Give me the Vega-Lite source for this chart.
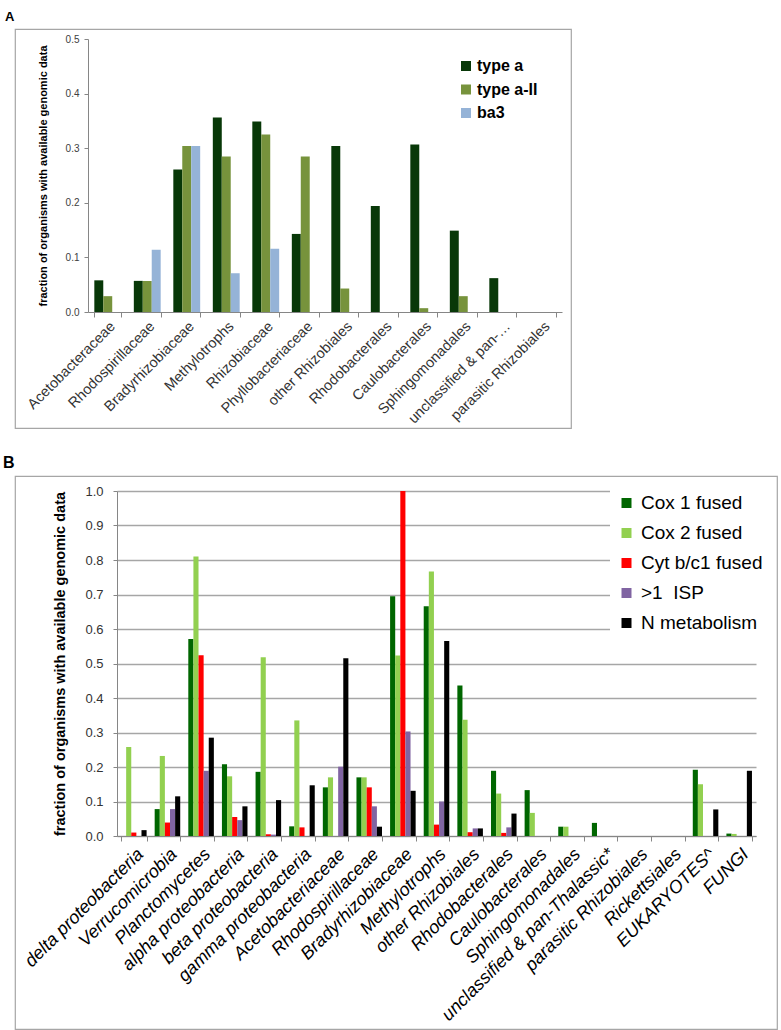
{
  "$schema": "https://vega.github.io/schema/vega-lite/v6.json",
  "background": "white",
  "autosize": {"type": "pad"},
  "padding": {"left": 2, "top": 10, "right": 0, "bottom": 0},
  "bounds": "flush",
  "spacing": 48,
  "resolve": {"scale": {"color": "independent", "xOffset": "independent", "x": "independent", "y": "independent"}, "legend": {"color": "independent"}},
  "config": {
    "font": "Liberation Sans",
    "view": {"stroke": "#a6a6a6", "strokeWidth": 1.2},
    "axis": {"domainColor": "#868686", "tickColor": "#868686", "labelFont": "Liberation Sans", "titleFont": "Liberation Sans"},
    "legend": {"labelFont": "Liberation Sans"}
  },
  "datasets": {
    "a": [
      {"g": "Acetobacteraceae", "s": "type a", "v": 0.058}, {"g": "Acetobacteraceae", "s": "type a-II", "v": 0.029}, {"g": "Acetobacteraceae", "s": "ba3", "v": 0},
      {"g": "Rhodospirillaceae", "s": "type a", "v": 0.057}, {"g": "Rhodospirillaceae", "s": "type a-II", "v": 0.057}, {"g": "Rhodospirillaceae", "s": "ba3", "v": 0.114},
      {"g": "Bradyrhizobiaceae", "s": "type a", "v": 0.261}, {"g": "Bradyrhizobiaceae", "s": "type a-II", "v": 0.304}, {"g": "Bradyrhizobiaceae", "s": "ba3", "v": 0.304},
      {"g": "Methylotrophs", "s": "type a", "v": 0.356}, {"g": "Methylotrophs", "s": "type a-II", "v": 0.285}, {"g": "Methylotrophs", "s": "ba3", "v": 0.071},
      {"g": "Rhizobiaceae", "s": "type a", "v": 0.349}, {"g": "Rhizobiaceae", "s": "type a-II", "v": 0.325}, {"g": "Rhizobiaceae", "s": "ba3", "v": 0.116},
      {"g": "Phyllobacteriaceae", "s": "type a", "v": 0.143}, {"g": "Phyllobacteriaceae", "s": "type a-II", "v": 0.285}, {"g": "Phyllobacteriaceae", "s": "ba3", "v": 0},
      {"g": "other Rhizobiales", "s": "type a", "v": 0.304}, {"g": "other Rhizobiales", "s": "type a-II", "v": 0.043}, {"g": "other Rhizobiales", "s": "ba3", "v": 0},
      {"g": "Rhodobacterales", "s": "type a", "v": 0.194}, {"g": "Rhodobacterales", "s": "type a-II", "v": 0}, {"g": "Rhodobacterales", "s": "ba3", "v": 0},
      {"g": "Caulobacterales", "s": "type a", "v": 0.307}, {"g": "Caulobacterales", "s": "type a-II", "v": 0.007}, {"g": "Caulobacterales", "s": "ba3", "v": 0},
      {"g": "Sphingomonadales", "s": "type a", "v": 0.149}, {"g": "Sphingomonadales", "s": "type a-II", "v": 0.029}, {"g": "Sphingomonadales", "s": "ba3", "v": 0},
      {"g": "unclassified & pan-…", "s": "type a", "v": 0.062}, {"g": "unclassified & pan-…", "s": "type a-II", "v": 0}, {"g": "unclassified & pan-…", "s": "ba3", "v": 0},
      {"g": "parasitic Rhizobiales", "s": "type a", "v": 0}, {"g": "parasitic Rhizobiales", "s": "type a-II", "v": 0}, {"g": "parasitic Rhizobiales", "s": "ba3", "v": 0}
    ],
    "b": [
      {"g": "delta proteobacteria", "s": "Cox 1 fused", "v": 0}, {"g": "delta proteobacteria", "s": "Cox 2 fused", "v": 0.258}, {"g": "delta proteobacteria", "s": "Cyt b/c1 fused", "v": 0.01}, {"g": "delta proteobacteria", "s": ">1 \u00a0ISP", "v": 0}, {"g": "delta proteobacteria", "s": "N metabolism", "v": 0.017},
      {"g": "Verrucomicrobia", "s": "Cox 1 fused", "v": 0.078}, {"g": "Verrucomicrobia", "s": "Cox 2 fused", "v": 0.232}, {"g": "Verrucomicrobia", "s": "Cyt b/c1 fused", "v": 0.039}, {"g": "Verrucomicrobia", "s": ">1 \u00a0ISP", "v": 0.078}, {"g": "Verrucomicrobia", "s": "N metabolism", "v": 0.115},
      {"g": "Planctomycetes", "s": "Cox 1 fused", "v": 0.571}, {"g": "Planctomycetes", "s": "Cox 2 fused", "v": 0.81}, {"g": "Planctomycetes", "s": "Cyt b/c1 fused", "v": 0.524}, {"g": "Planctomycetes", "s": ">1 \u00a0ISP", "v": 0.189}, {"g": "Planctomycetes", "s": "N metabolism", "v": 0.285},
      {"g": "alpha proteobacteria", "s": "Cox 1 fused", "v": 0.208}, {"g": "alpha proteobacteria", "s": "Cox 2 fused", "v": 0.173}, {"g": "alpha proteobacteria", "s": "Cyt b/c1 fused", "v": 0.055}, {"g": "alpha proteobacteria", "s": ">1 \u00a0ISP", "v": 0.046}, {"g": "alpha proteobacteria", "s": "N metabolism", "v": 0.086},
      {"g": "beta proteobacteria", "s": "Cox 1 fused", "v": 0.186}, {"g": "beta proteobacteria", "s": "Cox 2 fused", "v": 0.518}, {"g": "beta proteobacteria", "s": "Cyt b/c1 fused", "v": 0.005}, {"g": "beta proteobacteria", "s": ">1 \u00a0ISP", "v": 0.004}, {"g": "beta proteobacteria", "s": "N metabolism", "v": 0.104},
      {"g": "gamma proteobacteria", "s": "Cox 1 fused", "v": 0.028}, {"g": "gamma proteobacteria", "s": "Cox 2 fused", "v": 0.335}, {"g": "gamma proteobacteria", "s": "Cyt b/c1 fused", "v": 0.025}, {"g": "gamma proteobacteria", "s": ">1 \u00a0ISP", "v": 0}, {"g": "gamma proteobacteria", "s": "N metabolism", "v": 0.147},
      {"g": "Acetobacteriaceae", "s": "Cox 1 fused", "v": 0.141}, {"g": "Acetobacteriaceae", "s": "Cox 2 fused", "v": 0.17}, {"g": "Acetobacteriaceae", "s": "Cyt b/c1 fused", "v": 0}, {"g": "Acetobacteriaceae", "s": ">1 \u00a0ISP", "v": 0.201}, {"g": "Acetobacteriaceae", "s": "N metabolism", "v": 0.515},
      {"g": "Rhodospirillaceae", "s": "Cox 1 fused", "v": 0.17}, {"g": "Rhodospirillaceae", "s": "Cox 2 fused", "v": 0.17}, {"g": "Rhodospirillaceae", "s": "Cyt b/c1 fused", "v": 0.141}, {"g": "Rhodospirillaceae", "s": ">1 \u00a0ISP", "v": 0.086}, {"g": "Rhodospirillaceae", "s": "N metabolism", "v": 0.027},
      {"g": "Bradyrhizobiaceae", "s": "Cox 1 fused", "v": 0.695}, {"g": "Bradyrhizobiaceae", "s": "Cox 2 fused", "v": 0.523}, {"g": "Bradyrhizobiaceae", "s": "Cyt b/c1 fused", "v": 1.0}, {"g": "Bradyrhizobiaceae", "s": ">1 \u00a0ISP", "v": 0.303}, {"g": "Bradyrhizobiaceae", "s": "N metabolism", "v": 0.131},
      {"g": "Methylotrophs", "s": "Cox 1 fused", "v": 0.666}, {"g": "Methylotrophs", "s": "Cox 2 fused", "v": 0.767}, {"g": "Methylotrophs", "s": "Cyt b/c1 fused", "v": 0.033}, {"g": "Methylotrophs", "s": ">1 \u00a0ISP", "v": 0.1}, {"g": "Methylotrophs", "s": "N metabolism", "v": 0.565},
      {"g": "other Rhizobiales", "s": "Cox 1 fused", "v": 0.436}, {"g": "other Rhizobiales", "s": "Cox 2 fused", "v": 0.337}, {"g": "other Rhizobiales", "s": "Cyt b/c1 fused", "v": 0.011}, {"g": "other Rhizobiales", "s": ">1 \u00a0ISP", "v": 0.022}, {"g": "other Rhizobiales", "s": "N metabolism", "v": 0.022},
      {"g": "Rhodobacterales", "s": "Cox 1 fused", "v": 0.189}, {"g": "Rhodobacterales", "s": "Cox 2 fused", "v": 0.123}, {"g": "Rhodobacterales", "s": "Cyt b/c1 fused", "v": 0.009}, {"g": "Rhodobacterales", "s": ">1 \u00a0ISP", "v": 0.025}, {"g": "Rhodobacterales", "s": "N metabolism", "v": 0.065},
      {"g": "Caulobacterales", "s": "Cox 1 fused", "v": 0.133}, {"g": "Caulobacterales", "s": "Cox 2 fused", "v": 0.067}, {"g": "Caulobacterales", "s": "Cyt b/c1 fused", "v": 0}, {"g": "Caulobacterales", "s": ">1 \u00a0ISP", "v": 0}, {"g": "Caulobacterales", "s": "N metabolism", "v": 0},
      {"g": "Sphingomonadales", "s": "Cox 1 fused", "v": 0.027}, {"g": "Sphingomonadales", "s": "Cox 2 fused", "v": 0.027}, {"g": "Sphingomonadales", "s": "Cyt b/c1 fused", "v": 0}, {"g": "Sphingomonadales", "s": ">1 \u00a0ISP", "v": 0}, {"g": "Sphingomonadales", "s": "N metabolism", "v": 0},
      {"g": "unclassified & pan-Thalassic*", "s": "Cox 1 fused", "v": 0.038}, {"g": "unclassified & pan-Thalassic*", "s": "Cox 2 fused", "v": 0}, {"g": "unclassified & pan-Thalassic*", "s": "Cyt b/c1 fused", "v": 0}, {"g": "unclassified & pan-Thalassic*", "s": ">1 \u00a0ISP", "v": 0}, {"g": "unclassified & pan-Thalassic*", "s": "N metabolism", "v": 0},
      {"g": "parasitic Rhizobiales", "s": "Cox 1 fused", "v": 0}, {"g": "parasitic Rhizobiales", "s": "Cox 2 fused", "v": 0}, {"g": "parasitic Rhizobiales", "s": "Cyt b/c1 fused", "v": 0}, {"g": "parasitic Rhizobiales", "s": ">1 \u00a0ISP", "v": 0}, {"g": "parasitic Rhizobiales", "s": "N metabolism", "v": 0},
      {"g": "Rickettsiales", "s": "Cox 1 fused", "v": 0}, {"g": "Rickettsiales", "s": "Cox 2 fused", "v": 0}, {"g": "Rickettsiales", "s": "Cyt b/c1 fused", "v": 0}, {"g": "Rickettsiales", "s": ">1 \u00a0ISP", "v": 0}, {"g": "Rickettsiales", "s": "N metabolism", "v": 0},
      {"g": "EUKARYOTES^", "s": "Cox 1 fused", "v": 0.192}, {"g": "EUKARYOTES^", "s": "Cox 2 fused", "v": 0.15}, {"g": "EUKARYOTES^", "s": "Cyt b/c1 fused", "v": 0}, {"g": "EUKARYOTES^", "s": ">1 \u00a0ISP", "v": 0}, {"g": "EUKARYOTES^", "s": "N metabolism", "v": 0.077},
      {"g": "FUNGI", "s": "Cox 1 fused", "v": 0.007}, {"g": "FUNGI", "s": "Cox 2 fused", "v": 0.006}, {"g": "FUNGI", "s": "Cyt b/c1 fused", "v": 0}, {"g": "FUNGI", "s": ">1 \u00a0ISP", "v": 0}, {"g": "FUNGI", "s": "N metabolism", "v": 0.189}
    ]
  },
  "vconcat": [
    {
      "width": 556,
      "height": 399,
      "title": {"text": "A", "anchor": "start", "frame": "group", "dx": -10, "offset": -5, "baseline": "alphabetic", "fontSize": 13, "fontWeight": "bold", "color": "black", "font": "Liberation Sans"},
      "data": {"name": "a"},
      "mark": {"type": "bar"},
      "encoding": {
        "x": {
          "field": "g", "type": "nominal",
          "sort": ["Acetobacteraceae", "Rhodospirillaceae", "Bradyrhizobiaceae", "Methylotrophs", "Rhizobiaceae", "Phyllobacteriaceae", "other Rhizobiales", "Rhodobacterales", "Caulobacterales", "Sphingomonadales", "unclassified & pan-…", "parasitic Rhizobiales"],
          "scale": {"range": [73, 547], "paddingInner": 0.32, "paddingOuter": 0.16},
          "axis": {"title": null, "labelAngle": -45, "labelFontSize": 14.5, "labelColor": "#333333", "offset": -116, "tickBand": "extent", "tickSize": 5, "labelPadding": 2, "labelLimit": 300}
        },
        "xOffset": {"field": "s", "type": "nominal", "sort": ["type a", "type a-II", "ba3"]},
        "y": {
          "field": "v", "type": "quantitative",
          "scale": {"domain": [0, 0.5], "range": [283, 10], "nice": false},
          "axis": {"title": "fraction of organisms with available genomic data", "titleFontSize": 11, "titleFontWeight": "bold", "titleColor": "black", "titlePadding": 17, "values": [0, 0.1, 0.2, 0.3, 0.4, 0.5], "format": ".1f", "labelFontSize": 10, "labelColor": "#404040", "offset": -73, "grid": false, "tickSize": 4, "labelPadding": 5}
        },
        "color": {
          "field": "s", "type": "nominal",
          "scale": {"domain": ["type a", "type a-II", "ba3"], "range": ["#083808", "#77933C", "#95B3D7"]},
          "legend": {"title": null, "orient": "none", "legendX": 443, "legendY": 29, "symbolType": "square", "symbolSize": 100, "symbolStrokeWidth": 0, "labelFontSize": 16, "labelFontWeight": "bold", "labelColor": "black", "rowPadding": 7.5, "padding": 0, "labelOffset": 3}
        }
      }
    },
    {
      "width": 762,
      "height": 553,
      "title": {"text": "B", "anchor": "start", "frame": "group", "dx": -12, "offset": -8, "baseline": "alphabetic", "fontSize": 16, "fontWeight": "bold", "color": "black", "font": "Liberation Sans"},
      "data": {"name": "b"},
      "mark": {"type": "bar"},
      "encoding": {
        "x": {
          "field": "g", "type": "nominal",
          "sort": ["delta proteobacteria", "Verrucomicrobia", "Planctomycetes", "alpha proteobacteria", "beta proteobacteria", "gamma proteobacteria", "Acetobacteriaceae", "Rhodospirillaceae", "Bradyrhizobiaceae", "Methylotrophs", "other Rhizobiales", "Rhodobacterales", "Caulobacterales", "Sphingomonadales", "unclassified & pan-Thalassic*", "parasitic Rhizobiales", "Rickettsiales", "EUKARYOTES^", "FUNGI"],
          "scale": {"range": [102, 741], "paddingInner": 0.24, "paddingOuter": 0.12},
          "axis": {"title": null, "labelAngle": -45, "labelFontSize": 18, "labelFontStyle": "italic", "labelColor": "black", "offset": -193, "tickBand": "extent", "tickSize": 5, "labelPadding": 4, "labelLimit": 300}
        },
        "xOffset": {"field": "s", "type": "nominal", "sort": ["Cox 1 fused", "Cox 2 fused", "Cyt b/c1 fused", ">1 \u00a0ISP", "N metabolism"]},
        "y": {
          "field": "v", "type": "quantitative",
          "scale": {"domain": [0, 1], "range": [360, 15], "nice": false},
          "axis": {"title": "fraction of organisms with available genomic data", "titleFontSize": 14.5, "titleFontWeight": "bold", "titleColor": "black", "titlePadding": 17, "values": [0, 0.1, 0.2, 0.3, 0.4, 0.5, 0.6, 0.7, 0.8, 0.9, 1.0], "format": ".1f", "labelFontSize": 13, "labelColor": "#333333", "offset": -102, "grid": true, "gridColor": "#a6a6a6", "gridWidth": 1.3, "tickSize": 4, "labelPadding": 10}
        },
        "color": {
          "field": "s", "type": "nominal",
          "scale": {"domain": ["Cox 1 fused", "Cox 2 fused", "Cyt b/c1 fused", ">1 \u00a0ISP", "N metabolism"], "range": ["#006600", "#92D050", "#FF0000", "#8064A2", "#000000"]},
          "legend": {"title": null, "orient": "none", "legendX": 595, "legendY": 10.5, "symbolType": "square", "symbolSize": 100, "symbolStrokeWidth": 0, "labelFontSize": 19, "labelColor": "black", "rowPadding": 10, "padding": 7, "labelOffset": 5, "fillColor": "white", "labelLimit": 300}
        }
      }
    }
  ]
}
